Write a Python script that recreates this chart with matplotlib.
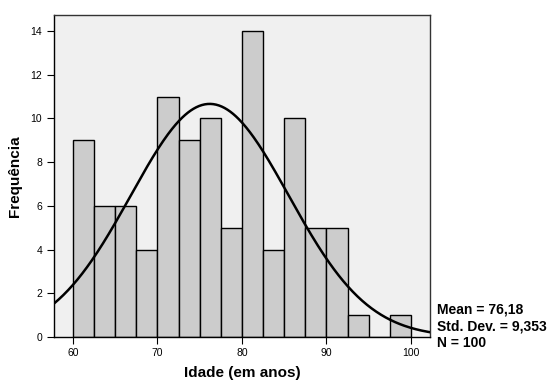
import matplotlib
import numpy as np

matplotlib.use("Agg")
import matplotlib.pyplot as plt

plt.rcParams["font.family"] = ["Liberation Sans", "DejaVu Sans"]

# histogram data (bin width 2.5, starting at 60)
bin_edges = [60 + 2.5 * i for i in range(17)]
counts = [9, 6, 6, 4, 11, 9, 10, 5, 14, 4, 10, 5, 5, 1, 0, 1]
mean = 76.18
std = 9.353
n = 100
x_ticks = [60, 70, 80, 90, 100]
y_ticks = [0, 2, 4, 6, 8, 10, 12, 14]

fig = plt.figure(figsize=(5.56, 3.85), dpi=100)
ax = fig.add_axes([0.0971, 0.1247, 0.6763, 0.8363])
ax.set_facecolor("#f0f0f0")

widths = np.diff(bin_edges)
ax.bar(bin_edges[:-1], counts, width=widths, align="edge",
       color="#cccccc", edgecolor="black", linewidth=1.0, zorder=2)

xs = np.linspace(57.75, 102.25, 400)
binw = widths[0]
curve = n * binw / (std * np.sqrt(2 * np.pi)) * np.exp(-0.5 * ((xs - mean) / std) ** 2)
ax.plot(xs, curve, color="black", linewidth=1.8, zorder=3)

ax.set_xlim(57.75, 102.25)
ax.set_ylim(0, 14.73)
ax.set_xticks(x_ticks)
ax.set_yticks(y_ticks)
ax.tick_params(axis="both", labelsize=7.5, length=5, width=0.8, direction="out")
ax.tick_params(axis="x", pad=3)
for s in ax.spines.values():
    s.set_color("#333333")
    s.set_linewidth(1.0)
ax.spines["left"].set_color("black")
ax.spines["bottom"].set_color("black")

ax.set_xlabel("Idade (em anos)", fontsize=11, fontweight="bold", labelpad=6)
ax.set_ylabel("Frequência", fontsize=11, fontweight="bold", labelpad=6)

mean_txt = f"{mean:.2f}".replace(".", ",")
std_txt = f"{std:.3f}".replace(".", ",")
fig.text(0.786, 0.195, f"Mean = {mean_txt}", fontsize=10, fontweight="bold", va="center")
fig.text(0.786, 0.152, f"Std. Dev. = {std_txt}", fontsize=10, fontweight="bold", va="center")
fig.text(0.786, 0.109, f"N = {n}", fontsize=10, fontweight="bold", va="center")

plt.savefig("out.png", dpi=100)
plt.close()
